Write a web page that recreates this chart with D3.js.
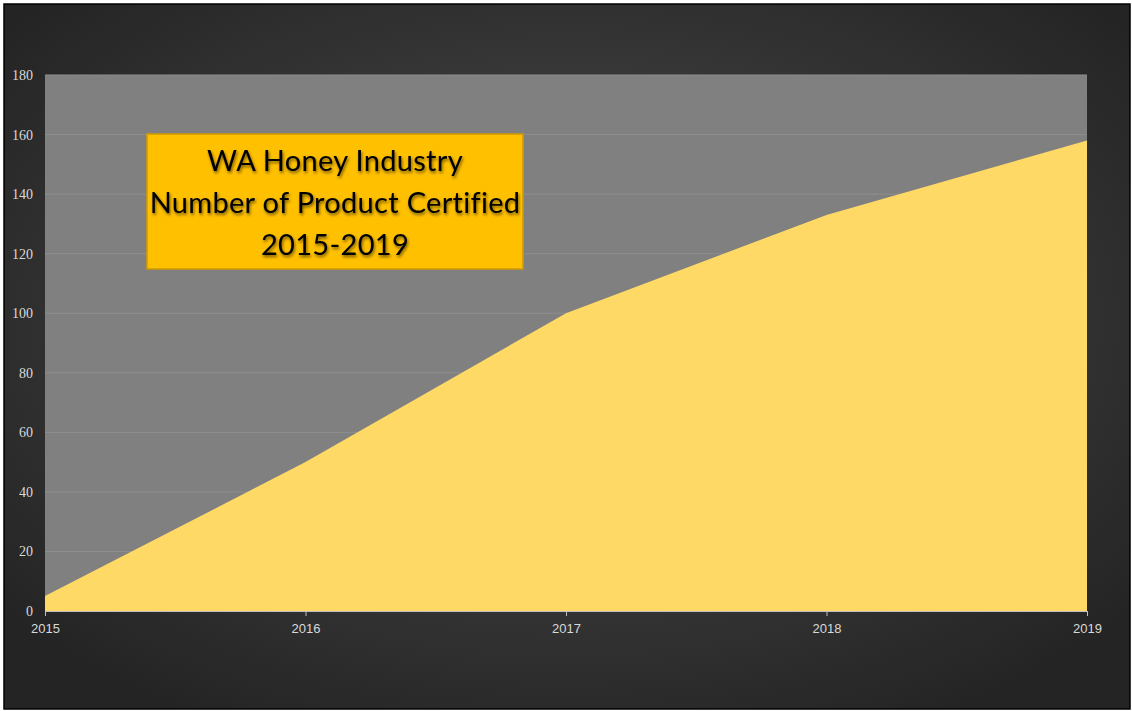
<!DOCTYPE html>
<html>
<head>
<meta charset="utf-8">
<script src="https://cdn.jsdelivr.net/npm/d3@7"></script>
<style>
  html, body { margin: 0; padding: 0; background: #ffffff; }
  svg { display: block; }
</style>
</head>
<body>
<svg id="chart" width="1132" height="711"></svg>
<script>
// Certified products per year
const years = [2015, 2016, 2017, 2018, 2019];
const certified = [5, 50, 100, 133, 158];
const yTicks = [0, 20, 40, 60, 80, 100, 120, 140, 160, 180];
const titleLines = ["WA Honey Industry", "Number of Product Certified", "2015-2019"];

const svg = d3.select("#chart");
const frame = { x: 4, y: 4, w: 1126, h: 705 };
const plot = { left: 45, right: 1087, top: 75, bottom: 611 };

const defs = svg.append("defs");
const bg = defs.append("radialGradient").attr("id", "bgGrad")
  .attr("cx", "50%").attr("cy", "45%").attr("r", "65%");
bg.append("stop").attr("offset", "0%").attr("stop-color", "#4d4d4d");
bg.append("stop").attr("offset", "100%").attr("stop-color", "#242424");

// Soft drop shadow behind the title text
const shadow = defs.append("filter").attr("id", "txtShadow")
  .attr("x", "-10%").attr("y", "-30%").attr("width", "120%").attr("height", "160%");
shadow.append("feGaussianBlur").attr("in", "SourceAlpha").attr("stdDeviation", 1.4).attr("result", "b");
shadow.append("feOffset").attr("in", "b").attr("dx", 1).attr("dy", 1.5).attr("result", "o");
shadow.append("feComponentTransfer").attr("in", "o").attr("result", "s")
  .append("feFuncA").attr("type", "linear").attr("slope", 0.55);
const fm = shadow.append("feMerge");
fm.append("feMergeNode").attr("in", "s");
fm.append("feMergeNode").attr("in", "SourceGraphic");

// Dark backdrop with frame
svg.append("rect").attr("x", frame.x).attr("y", frame.y)
  .attr("width", frame.w).attr("height", frame.h)
  .attr("fill", "url(#bgGrad)").attr("stroke", "#000").attr("stroke-width", 1.5);

const x = d3.scaleLinear().domain([years[0], years[years.length - 1]])
  .range([plot.left, plot.right]);
const y = d3.scaleLinear().domain([0, 180]).range([plot.bottom, plot.top]);

// Plot area
svg.append("rect").attr("x", plot.left).attr("y", plot.top)
  .attr("width", plot.right - plot.left).attr("height", plot.bottom - plot.top)
  .attr("fill", "#808080");

// Gridlines
svg.append("g").selectAll("line").data(yTicks.filter(d => d > 0)).join("line")
  .attr("x1", plot.left).attr("x2", plot.right)
  .attr("y1", d => y(d)).attr("y2", d => y(d))
  .attr("stroke", "#8e8e8e").attr("stroke-width", 1);

// Area
const data = years.map((yr, i) => ({ yr, v: certified[i] }));
const area = d3.area().x(d => x(d.yr)).y0(y(0)).y1(d => y(d.v));
svg.append("path").datum(data).attr("d", area).attr("fill", "#FFD966");

// Y axis labels
const yAxis = d3.axisLeft(y).tickValues(yTicks).tickSize(0).tickPadding(12);
const gy = svg.append("g").attr("transform", `translate(${plot.left},0)`).call(yAxis);
gy.select(".domain").remove();
gy.selectAll("text").attr("fill", "#d9d9d9")
  .style("font-family", "'Liberation Serif', serif").style("font-size", "14px");

// X axis
const xAxis = d3.axisBottom(x).tickValues(years).tickFormat(d3.format("d"))
  .tickSize(5).tickSizeOuter(0).tickPadding(8);
const gx = svg.append("g").attr("transform", `translate(0,${plot.bottom})`).call(xAxis);
gx.select(".domain").attr("stroke", "#bfbfbf").attr("stroke-width", 1.2);
gx.selectAll(".tick line").attr("stroke", "#bfbfbf");
gx.selectAll("text").attr("fill", "#d9d9d9")
  .style("font-family", "'Liberation Sans Narrow', 'Liberation Sans', sans-serif").style("font-size", "13px");

// Title box
const box = { x: 147, y: 134, w: 376, h: 135 };
svg.append("rect").attr("x", box.x).attr("y", box.y).attr("width", box.w).attr("height", box.h)
  .attr("fill", "#FFC000").attr("stroke", "#d19a00").attr("stroke-width", 1.5);
svg.append("g").attr("filter", "url(#txtShadow)").selectAll("text").data(titleLines).join("text")
  .attr("x", box.x + box.w / 2)
  .attr("y", (d, i) => box.y + 37 + i * 42)
  .attr("text-anchor", "middle")
  .attr("fill", "#000")
  .style("font-family", "Lato, 'Open Sans', sans-serif")
  .style("font-size", "29px")
  .style("letter-spacing", "0.3px")
  .text(d => d);
</script>
</body>
</html>
